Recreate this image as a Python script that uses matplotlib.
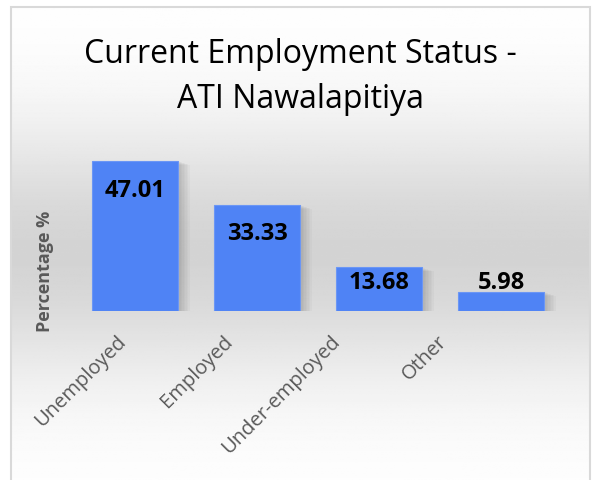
import numpy as np
import matplotlib
matplotlib.use("Agg")
import matplotlib.pyplot as plt
from matplotlib.patches import Rectangle

categories = ["Unemployed", "Employed", "Under-employed", "Other"]
values = [47.01, 33.33, 13.68, 5.98]
title = "Current Employment Status -\nATI Nawalapitiya"
ylabel = "Percentage %"

W, H = 593, 480
fig = plt.figure(figsize=(W / 100, H / 100), dpi=100)
fig.patch.set_facecolor("white")

# background gradient panel
bx0, by0, bx1, by1 = 11 / W, 0, 590 / W, 1 - 7 / H
bg = fig.add_axes([bx0, by0, bx1 - bx0, by1 - by0], zorder=0)
ys = np.linspace(0, 1, 300)  # 0 = top
dark = 0.83
center = 0.52
g = 1 - (1 - dark) * np.exp(-((ys - center) / 0.27) ** 2)
img = np.repeat(g[:, None], 2, axis=1)
bg.imshow(img, cmap="gray", vmin=0, vmax=1, aspect="auto", extent=[0, 1, 1, 0])
bg.set_xlim(0, 1)
bg.set_ylim(1, 0)
bg.axis("off")
fig.patches.append(Rectangle((bx0, by0 - 0.01), bx1 - bx0, by1 - by0 + 0.01,
                             transform=fig.transFigure, fill=False,
                             edgecolor="#d9d9d9", linewidth=1.5, zorder=5))

# main axes: x from 74 to 562 px, baseline at y=311, 3.19 px/unit
ymax = 50
ax_left, ax_right = 74 / W, 562 / W
ax_bottom = 1 - 311 / H
ax_h_px = ymax * 3.19
ax = fig.add_axes([ax_left, ax_bottom, ax_right - ax_left, ax_h_px / H], zorder=2)
ax.patch.set_alpha(0)
x = np.arange(len(categories))
ax.set_xlim(-0.5, len(categories) - 0.5)
ax.set_ylim(0, ymax)

# soft shadows
for k in range(8):
    off = 0.012 * (k + 1)
    ax.bar(x + off, np.array(values) - 0.15 * (k + 1), width=0.705, bottom=0,
           color="black", alpha=0.022, zorder=1, linewidth=0)

ax.bar(x, values, width=0.705, color="#4f83f5", edgecolor="#6b96f5",
       linewidth=0.8, zorder=3)

for xi, v in zip(x, values):
    ax.text(xi, max(v - 9.3, 8.8), f"{v:.2f}", ha="center", va="center",
            fontsize=17, fontweight="bold", color="black",
            family="Open Sans", zorder=4)

for s in ax.spines.values():
    s.set_visible(False)
ax.set_yticks([])
ax.set_xticks([])

# category labels (Excel spreads rotated labels slightly tighter than bars)
label_pos = x * 0.877 - 0.1
for lp, cat in zip(label_pos, categories):
    ax.text(lp, -28 / ax_h_px, cat, transform=ax.get_xaxis_transform(),
            rotation=45, ha="right", va="center", rotation_mode="anchor",
            fontsize=14.5, color="#595959", family="Open Sans")

fig.text(45 / W, 1 - 271 / H, ylabel, rotation=90, ha="center", va="center",
         fontsize=13, fontweight="bold", color="#595959", family="Open Sans")

fig.text(0.5 * (11 + 590) / W, 1 - 77 / H, title, ha="center", va="center",
         fontsize=23, color="black", family="Open Sans", linespacing=1.45)

fig.savefig("out.png", dpi=100)
